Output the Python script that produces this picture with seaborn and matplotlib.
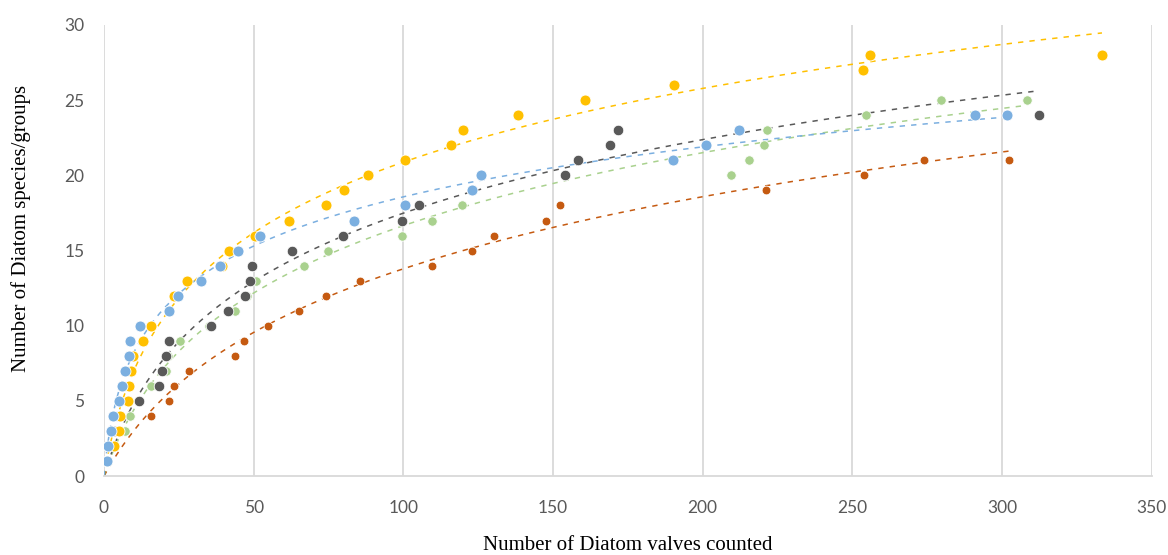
import numpy as np
import pandas as pd
import seaborn as sns
import matplotlib
matplotlib.use("Agg")
import matplotlib.pyplot as plt

# ---- data ----
series_names = ["Blue", "Yellow", "Gray", "Green", "Brown"]
series_colors = ["#7BAFE0", "#FFC000", "#595959", "#A9D18E", "#C55A11"]
marker_sizes = [62, 62, 58, 46, 40]

blue_x = [1, 1.2, 2.4, 3, 4.9, 6, 6.9, 8.3, 8.8, 12.2, 21.8, 24.8, 32.3, 38.7, 44.8, 52.2,
          83.5, 100.5, 123, 126, 190, 201, 212, 291, 301.6]
blue_y = [1, 2, 3, 4, 5, 6, 7, 8, 9, 10, 11, 12, 13, 14, 15, 16, 17, 18, 19, 20, 21, 22, 23, 24, 24]

yellow_x = [1, 3.2, 4.9, 5.5, 8, 8.4, 8.9, 9.7, 13.2, 15.7, 23.3, 27.8, 39.4, 41.7, 50.6, 61.7,
            74.3, 80.3, 88.3, 100.6, 116.1, 120.1, 138.3, 160.7, 190.5, 253.5, 256, 333.4]
yellow_y = [1, 2, 3, 4, 5, 6, 7, 8, 9, 10, 12, 13, 14, 15, 16, 17, 18, 19, 20, 21, 22, 23, 24,
            25, 26, 27, 28, 28]

gray_x = [1, 3.3, 4.9, 11.6, 18.4, 19.5, 20.7, 21.8, 35.7, 41.3, 47.1, 48.8, 49.4, 62.7, 79.7,
          99.5, 105.1, 123, 154, 158.5, 169.1, 171.6, 312.4]
gray_y = [1, 3, 4, 5, 6, 7, 8, 9, 10, 11, 12, 13, 14, 15, 16, 17, 18, 19, 20, 21, 22, 23, 24]

green_x = [1, 6.9, 8.8, 11.6, 15.8, 20.8, 21.4, 25.3, 35.2, 43.9, 47.7, 50.8, 66.8, 74.8, 99.5,
           109.7, 119.7, 209.5, 215.5, 220.5, 221.5, 254.6, 279.5, 308.4]
green_y = [1, 3, 4, 5, 6, 7, 8, 9, 10, 11, 12, 13, 14, 15, 16, 17, 18, 20, 21, 22, 23, 24, 25, 25]

brown_x = [5.5, 15.8, 21.8, 23.4, 28.3, 43.9, 46.9, 54.8, 65.2, 74.3, 85.7, 109.7, 123.1,
           130.3, 147.6, 152.5, 221.1, 253.9, 274, 302.4]
brown_y = [3, 4, 5, 6, 7, 8, 9, 10, 11, 12, 13, 14, 15, 16, 17, 18, 19, 20, 21, 21]

x_ticks = [0, 50, 100, 150, 200, 250, 300, 350]
y_ticks = [0, 5, 10, 15, 20, 25, 30]
x_label = "Number of Diatom valves counted"
y_label = "Number of Diatom species/groups"

all_x = [blue_x, yellow_x, gray_x, green_x, brown_x]
all_y = [blue_y, yellow_y, gray_y, green_y, brown_y]

frames = []
for name, xs, ys in zip(series_names, all_x, all_y):
    frames.append(pd.DataFrame({"x": xs, "y": ys, "series": name}))
df = pd.concat(frames, ignore_index=True)


def fit_log_accum(x, y):
    """Least-squares fit of y = a * ln(1 + x / c) (accumulation curve through origin)."""
    best = None
    for c in np.geomspace(0.2, 500, 3000):
        f = np.log1p(x / c)
        a = np.sum(y * f) / np.sum(f * f)
        err = np.sum((y - a * f) ** 2)
        if best is None or err < best[0]:
            best = (err, a, c)
    return best[1], best[2]


# ---- figure ----
sns.set_theme(style="white")
fig = plt.figure(figsize=(11.68, 5.55), dpi=100)
ax = fig.add_axes([0.089, 0.142, 0.897, 0.813])

draw_order = ["Brown", "Green", "Gray", "Yellow", "Blue"]
for name in draw_order:
    i = series_names.index(name)
    sub = df[df.series == name]
    a, c = fit_log_accum(sub.x.values.astype(float), sub.y.values.astype(float))
    xx = np.linspace(0, sub.x.max(), 500)
    tr = pd.DataFrame({"x": xx, "y": a * np.log1p(xx / c)})
    sns.lineplot(data=tr, x="x", y="y", ax=ax, color=series_colors[i], lw=1.1,
                 linestyle=(0, (3.5, 4)), zorder=2, legend=False)

for name in draw_order:
    i = series_names.index(name)
    sub = df[df.series == name]
    sns.scatterplot(data=sub, x="x", y="y", ax=ax, color=series_colors[i],
                    s=marker_sizes[i], edgecolor="white", linewidth=0.6,
                    alpha=1.0, zorder=3, legend=False)

ax.set_xlim(0, 350)
ax.set_ylim(0, 30)
ax.set_xticks(x_ticks)
ax.set_yticks(y_ticks)
ax.set_xticklabels([str(t) for t in x_ticks])
ax.set_yticklabels([str(t) for t in y_ticks])
ax.tick_params(axis="both", length=0, labelsize=12.5, labelcolor="#595959")
for lab in ax.get_xticklabels() + ax.get_yticklabels():
    lab.set_family(["Lato", "DejaVu Sans"])
ax.tick_params(axis="x", pad=17)
ax.tick_params(axis="y", pad=14)

ax.grid(axis="x", color="#D9D9D9", lw=1.3)
ax.grid(axis="y", visible=False)
ax.set_axisbelow(True)
for side in ["top", "right", "left"]:
    ax.spines[side].set_visible(False)
ax.spines["bottom"].set_color("#D9D9D9")
ax.spines["bottom"].set_linewidth(1.3)

ax.set_xlabel(x_label, family=["Liberation Serif", "DejaVu Serif"], fontsize=15,
              color="black")
ax.set_ylabel(y_label, family=["Liberation Serif", "DejaVu Serif"], fontsize=15,
              color="black")
ax.xaxis.set_label_coords(0.5, (476 - 545) / 451, transform=ax.transAxes)
ax.xaxis.label.set_va("center")
ax.yaxis.set_label_coords((21 - 104) / 1048, (476 - 228) / 451, transform=ax.transAxes)
ax.yaxis.label.set_va("center")

fig.savefig("out.png", dpi=100)
